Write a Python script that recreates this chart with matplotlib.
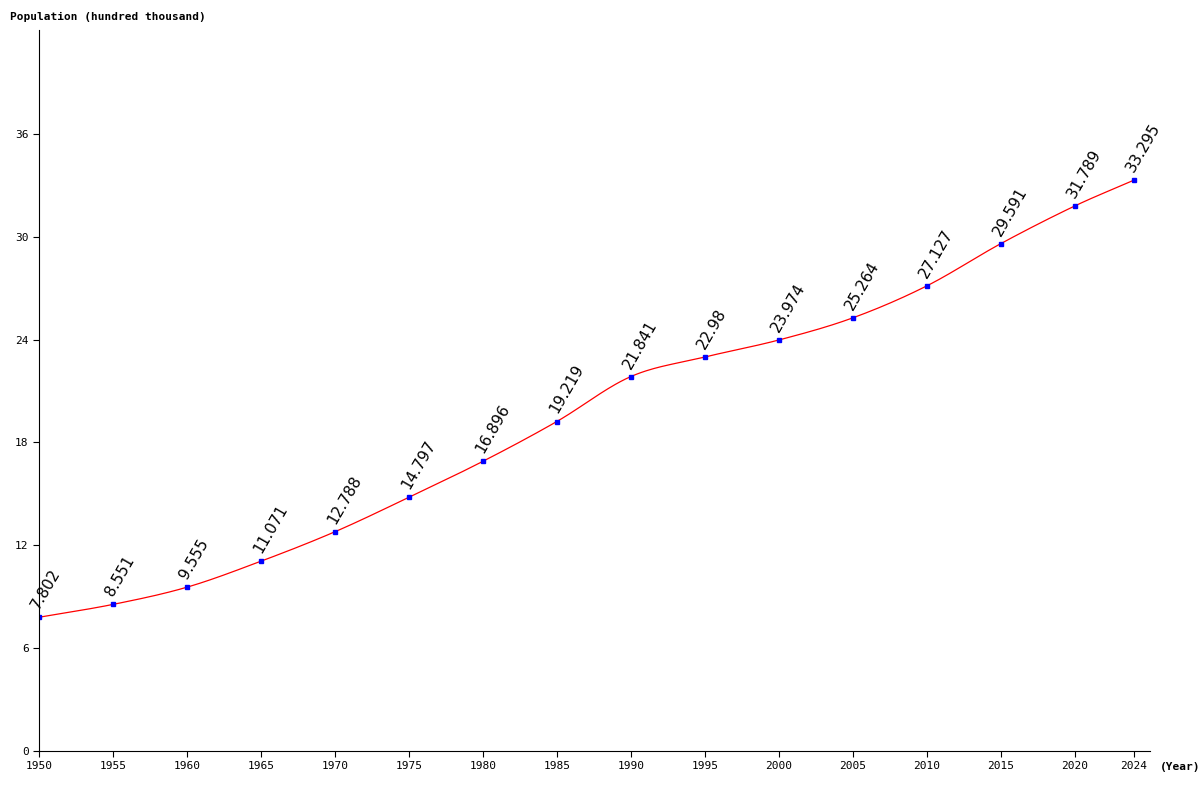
import matplotlib
matplotlib.use("Agg")
import matplotlib.pyplot as plt
import numpy as np

years = [1950, 1955, 1960, 1965, 1970, 1975, 1980, 1985, 1990, 1995, 2000, 2005, 2010, 2015, 2020, 2024]
values = [7.802, 8.551, 9.555, 11.071, 12.788, 14.797, 16.896, 19.219, 21.841, 22.98, 23.974, 25.264, 27.127, 29.591, 31.789, 33.295]
labels = ["7.802", "8.551", "9.555", "11.071", "12.788", "14.797", "16.896", "19.219", "21.841", "22.98", "23.974", "25.264", "27.127", "29.591", "31.789", "33.295"]
yticks = [0, 6, 12, 18, 24, 30, 36]

fig = plt.figure(figsize=(12, 8), dpi=100)
ax = fig.add_axes([39/1200, 49/800, (1150-39)/1200, (751-30)/800])

# Catmull-Rom smooth curve through data points
x = np.array(years, float); y = np.array(values, float)
xs, ys = [], []
for i in range(len(x) - 1):
    p0 = i - 1 if i > 0 else i
    p3 = i + 2 if i + 2 < len(x) else i + 1
    t = np.linspace(0, 1, 30)
    m1 = (y[i+1] - y[p0]) / (x[i+1] - x[p0]) * (x[i+1] - x[i])
    m2 = (y[p3] - y[i]) / (x[p3] - x[i]) * (x[i+1] - x[i])
    h00 = 2*t**3 - 3*t**2 + 1; h10 = t**3 - 2*t**2 + t
    h01 = -2*t**3 + 3*t**2; h11 = t**3 - t**2
    xs.extend(x[i] + t*(x[i+1]-x[i]))
    ys.extend(h00*y[i] + h10*m1 + h01*y[i+1] + h11*m2)
ax.plot(xs, ys, color="red", lw=0.9)
ax.plot(years, values, "s", color="blue", ms=3.5)

for xv, yv, lab in zip(years, values, labels):
    ax.annotate(lab, (xv, yv), xytext=(2, 4), textcoords="offset points",
                rotation=60, fontsize=11, ha="left", va="bottom", color="black",
                rotation_mode="anchor")

ax.set_xlim(1950, 2025.1)
ax.set_ylim(0, 42.06)
ax.set_xticks(years)
ax.set_xticklabels([str(v) for v in years], fontsize=8, family="DejaVu Sans Mono")
ax.set_yticks(yticks)
ax.set_yticklabels([str(v) for v in yticks], fontsize=8, family="DejaVu Sans Mono")
for s in ["top", "right"]:
    ax.spines[s].set_visible(False)
ax.tick_params(length=4, width=0.8)
fig.text(10/1200, 1 - 17/800, "Population (hundred thousand)", fontsize=8,
         family="DejaVu Sans Mono", fontweight="bold", va="center")
fig.text(1160/1200, 1 - 767/800, "(Year)", fontsize=8,
         family="DejaVu Sans Mono", fontweight="bold", va="center")
fig.savefig("out.png", dpi=100)
